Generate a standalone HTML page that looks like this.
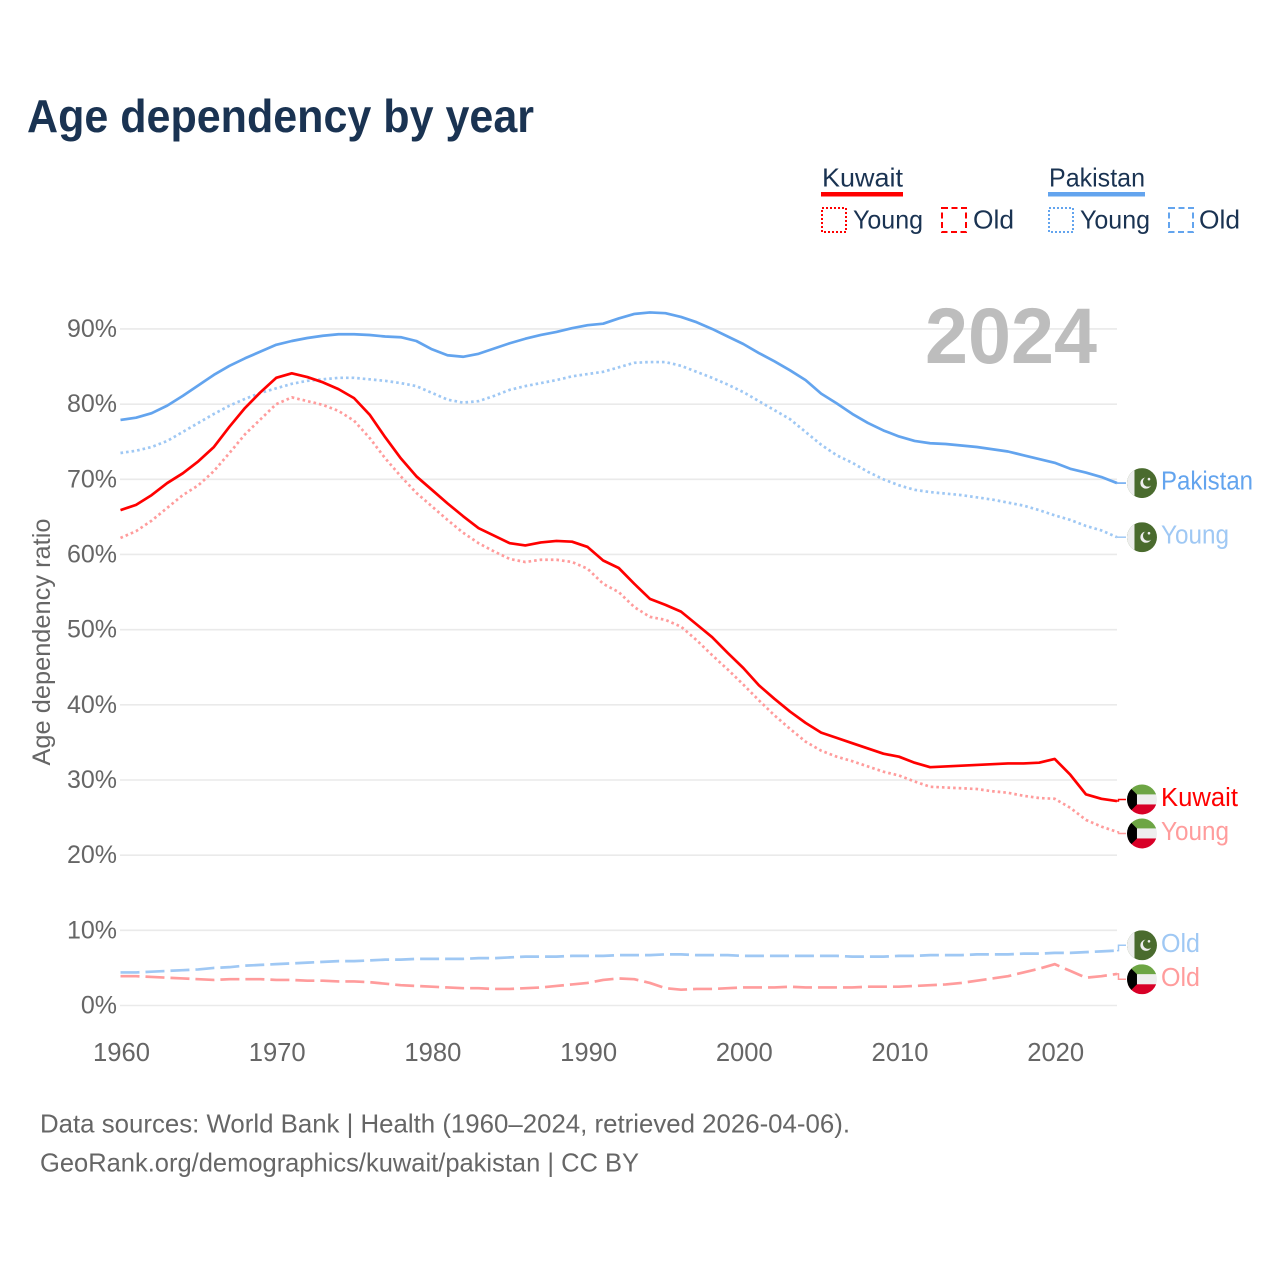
<!DOCTYPE html>
<html lang="en">
<head>
<meta charset="utf-8">
<title>Age dependency by year</title>
<style>
html,body{margin:0;padding:0;background:#fff;width:1280px;height:1280px;overflow:hidden}
svg{display:block}
text{font-family:"Liberation Sans",sans-serif}
</style>
</head>
<body>
<svg id="chart" xmlns="http://www.w3.org/2000/svg" width="1280" height="1280" viewBox="0 0 1280 1280">
  <defs>
    <clipPath id="flag-clip"><circle cx="0" cy="0" r="15"></circle></clipPath>
  </defs>
  <rect x="0" y="0" width="1280" height="1280" fill="#fff"></rect>
  <text x="27" y="132" font-size="46" font-weight="700" fill="#1a3352" textLength="507" lengthAdjust="spacingAndGlyphs">Age dependency by year</text>

  <g font-size="26" fill="#1a3352">
    <text x="822" y="186.5" textLength="81" lengthAdjust="spacingAndGlyphs">Kuwait</text>
    <rect x="821" y="192" width="82" height="4.5" fill="#ff0000"></rect>
    <rect x="822" y="208" width="24" height="24" fill="none" stroke="#ff0000" stroke-width="2" stroke-dasharray="2 2"></rect>
    <text x="853" y="228.5" textLength="70" lengthAdjust="spacingAndGlyphs">Young</text>
    <rect x="942" y="208" width="24" height="24" fill="none" stroke="#ff0000" stroke-width="2" stroke-dasharray="6 3.5"></rect>
    <text x="973" y="228.5" textLength="41" lengthAdjust="spacingAndGlyphs">Old</text>

    <text x="1049" y="186.5" textLength="96" lengthAdjust="spacingAndGlyphs">Pakistan</text>
    <rect x="1048" y="192" width="97" height="4.5" fill="#63a4ee"></rect>
    <rect x="1049" y="208" width="24" height="24" fill="none" stroke="#63a4ee" stroke-width="2" stroke-dasharray="2 2"></rect>
    <text x="1080" y="228.5" textLength="70" lengthAdjust="spacingAndGlyphs">Young</text>
    <rect x="1169" y="208" width="24" height="24" fill="none" stroke="#63a4ee" stroke-width="2" stroke-dasharray="6 3.5"></rect>
    <text x="1199" y="228.5" textLength="41" lengthAdjust="spacingAndGlyphs">Old</text>
  </g>

  <text transform="translate(50,642) rotate(-90)" text-anchor="middle" font-size="25" fill="#666" textLength="247" lengthAdjust="spacingAndGlyphs">Age dependency ratio</text>

  <g id="grid"></g>
  <g id="yticks"></g>
  <g id="xticks"></g>

  <text x="925" y="363" font-size="79" font-weight="700" fill="#bdbdbd" textLength="172" lengthAdjust="spacingAndGlyphs">2024</text>

  <g id="series"></g>
  <g id="end-labels"></g>

  <text x="40" y="1132.5" font-size="26" fill="#666" textLength="810" lengthAdjust="spacingAndGlyphs">Data sources: World Bank | Health (1960–2024, retrieved 2026-04-06).</text>
  <text x="40" y="1171.5" font-size="26" fill="#666" textLength="599" lengthAdjust="spacingAndGlyphs">GeoRank.org/demographics/kuwait/pakistan | CC BY</text>
</svg>

<script>
const years = [1960,1961,1962,1963,1964,1965,1966,1967,1968,1969,1970,1971,1972,1973,1974,1975,1976,1977,1978,1979,1980,1981,1982,1983,1984,1985,1986,1987,1988,1989,1990,1991,1992,1993,1994,1995,1996,1997,1998,1999,2000,2001,2002,2003,2004,2005,2006,2007,2008,2009,2010,2011,2012,2013,2014,2015,2016,2017,2018,2019,2020,2021,2022,2023,2024];
const yTickValues = [0,10,20,30,40,50,60,70,80,90];
const xTickValues = [1960,1970,1980,1990,2000,2010,2020];

const pakistanTotal = [77.9,78.2,78.8,79.8,81.1,82.5,83.9,85.1,86.1,87.0,87.9,88.4,88.8,89.1,89.3,89.3,89.2,89.0,88.9,88.4,87.3,86.5,86.3,86.7,87.4,88.1,88.7,89.2,89.6,90.1,90.5,90.7,91.4,92.0,92.2,92.1,91.6,90.9,90.0,89.0,88.0,86.8,85.7,84.5,83.2,81.4,80.1,78.7,77.5,76.5,75.7,75.1,74.8,74.7,74.5,74.3,74.0,73.7,73.2,72.7,72.2,71.4,70.9,70.3,69.5];
const pakistanYoung = [73.5,73.8,74.3,75.1,76.3,77.5,78.7,79.8,80.7,81.5,82.1,82.7,83.1,83.3,83.5,83.5,83.3,83.1,82.8,82.4,81.5,80.6,80.2,80.4,81.1,81.9,82.4,82.8,83.2,83.7,84.0,84.3,84.9,85.5,85.6,85.6,85.1,84.3,83.5,82.6,81.6,80.4,79.2,78.0,76.3,74.6,73.2,72.2,71.0,70.0,69.2,68.6,68.3,68.1,67.9,67.6,67.3,66.9,66.5,65.9,65.2,64.6,63.8,63.2,62.3];
const pakistanOld = [4.4,4.4,4.5,4.6,4.7,4.8,5.0,5.1,5.3,5.4,5.5,5.6,5.7,5.8,5.9,5.9,6.0,6.1,6.1,6.2,6.2,6.2,6.2,6.3,6.3,6.4,6.5,6.5,6.5,6.6,6.6,6.6,6.7,6.7,6.7,6.8,6.8,6.7,6.7,6.7,6.6,6.6,6.6,6.6,6.6,6.6,6.6,6.5,6.5,6.5,6.6,6.6,6.7,6.7,6.7,6.8,6.8,6.8,6.9,6.9,7.0,7.0,7.1,7.2,7.3];
const kuwaitTotal = [65.9,66.6,67.9,69.5,70.8,72.4,74.3,77.0,79.5,81.6,83.5,84.1,83.6,82.9,82.0,80.8,78.6,75.6,72.8,70.4,68.6,66.8,65.1,63.5,62.5,61.5,61.2,61.6,61.8,61.7,61.0,59.2,58.2,56.1,54.1,53.3,52.4,50.7,49.0,46.9,44.9,42.6,40.8,39.1,37.6,36.3,35.6,34.9,34.2,33.5,33.1,32.3,31.7,31.8,31.9,32.0,32.1,32.2,32.2,32.3,32.8,30.7,28.1,27.5,27.2];
const kuwaitYoung = [62.2,63.1,64.5,66.2,67.9,69.2,71.1,73.5,76.0,78.0,80.0,80.9,80.4,79.9,79.1,77.8,75.5,72.8,70.4,68.2,66.4,64.6,62.9,61.5,60.4,59.4,59.0,59.3,59.3,59.0,58.1,56.1,55.0,53.0,51.7,51.3,50.4,48.6,46.6,44.7,42.7,40.6,38.6,36.8,35.1,33.9,33.1,32.5,31.8,31.1,30.6,29.8,29.1,29.0,28.9,28.8,28.5,28.3,27.9,27.6,27.5,26.3,24.7,23.8,23.1];
const kuwaitOld = [3.9,3.9,3.8,3.7,3.6,3.5,3.4,3.5,3.5,3.5,3.4,3.4,3.3,3.3,3.2,3.2,3.1,2.9,2.7,2.6,2.5,2.4,2.3,2.3,2.2,2.2,2.3,2.4,2.6,2.8,3.0,3.4,3.6,3.5,3.0,2.3,2.1,2.2,2.2,2.3,2.4,2.4,2.4,2.5,2.4,2.4,2.4,2.4,2.5,2.5,2.5,2.6,2.7,2.8,3.0,3.3,3.6,3.9,4.4,4.9,5.5,4.6,3.7,3.9,4.2];

const seriesNames = ['pakistan-total','pakistan-young','pakistan-old','kuwait-total','kuwait-young','kuwait-old'];
const seriesValues = [pakistanTotal,pakistanYoung,pakistanOld,kuwaitTotal,kuwaitYoung,kuwaitOld];
const seriesLabels = ['Pakistan','Young','Old','Kuwait','Young','Old'];
const seriesCountry = ['pk','pk','pk','kw','kw','kw'];
const seriesColors = ['#63a4ee','#9fc8f4','#9fc8f4','#ff0000','#ff9c9c','#ff9c9c'];
const seriesStyle = ['solid','dotted','dashed','solid','dotted','dashed'];

const NS = 'http://www.w3.org/2000/svg';
const xScale = function (year) { return 120.5 + (year - 1960) * 15.57; };
const yScale = function (v) { return 1005.5 - v * 7.517; };
const labelTextLength = function (label) {
  if (label === 'Pakistan') return 92;
  if (label === 'Kuwait') return 77;
  if (label === 'Young') return 68;
  return 39;
};

function make(tag, attrs, parent) {
  const el = document.createElementNS(NS, tag);
  for (const k in attrs) el.setAttribute(k, attrs[k]);
  parent.appendChild(el);
  return el;
}

const gridGroup = document.getElementById('grid');
const yGroup = document.getElementById('yticks');
yTickValues.forEach(function (v) {
  const line = make('line', {x1: 120, x2: 1117, y1: yScale(v), y2: yScale(v), stroke: '#eaeaea', 'stroke-width': 1.6}, gridGroup);
  
  
  const t = make('text', {x: 117, y: yScale(v) + 8, 'text-anchor': 'end', 'font-size': 25, fill: '#666'}, yGroup);
  
  
  t.textContent = v + '%';
});

const xGroup = document.getElementById('xticks');
xTickValues.forEach(function (yr) {
  const t = make('text', {x: xScale(yr) + 1, y: 1061, 'text-anchor': 'middle', 'font-size': 25.6, fill: '#666'}, xGroup);
  
  
  t.textContent = yr;
});

const seriesGroup = document.getElementById('series');
seriesValues.forEach(function (vals, i) {
  const d = vals.map(function (v, j) { return (j ? 'L' : 'M') + xScale(years[j]).toFixed(2) + ',' + yScale(v).toFixed(2); }).join(' ');
  const attrs = {d: d, fill: 'none', stroke: seriesColors[i], 'stroke-width': 2.7, 'stroke-linejoin': 'round'};
  if (seriesStyle[i] === 'dotted') attrs['stroke-dasharray'] = '2.6 3';
  if (seriesStyle[i] === 'dashed') attrs['stroke-dasharray'] = '19 6';
  const path = make('path', attrs, seriesGroup);
  
  
});

/* End labels: start at the final value, then push overlapping ones apart */
const minGap = 34;
const endPoints = seriesValues.map(function (vals, i) {
  return {i: i, y0: yScale(vals[vals.length - 1]), y: yScale(vals[vals.length - 1])};
}).sort(function (a, b) { return a.y0 - b.y0; });
for (let k = 1; k < endPoints.length; k++) {
  const a = endPoints[k - 1], b = endPoints[k];
  if (b.y - a.y < minGap) {
    const mid = (a.y + b.y) / 2;
    a.y = mid - minGap / 2;
    b.y = mid + minGap / 2;
  }
}

function drawFlag(parent, country, cx, cy) {
  const g = make('g', {transform: 'translate(' + cx + ',' + cy.toFixed(2) + ')', 'clip-path': 'url(#flag-clip)'}, parent);
  if (country === 'pk') {
    make('rect', {x: -15, y: -15, width: 30, height: 30, fill: '#4a6b2e'}, g);
    make('rect', {x: -15, y: -15, width: 7.5, height: 30, fill: '#eeeeee'}, g);
    make('circle', {cx: 4, cy: 0, r: 5.6, fill: '#eeeeee'}, g);
    make('circle', {cx: 6, cy: -1.4, r: 5, fill: '#4a6b2e'}, g);
    make('circle', {cx: 7, cy: -4, r: 1.3, fill: '#eeeeee'}, g);
  } else {
    make('rect', {x: -15, y: -15, width: 30, height: 10, fill: '#6da544'}, g);
    make('rect', {x: -15, y: -5, width: 30, height: 10, fill: '#eeeeee'}, g);
    make('rect', {x: -15, y: 5, width: 30, height: 10, fill: '#d80027'}, g);
    make('polygon', {points: '-15,-15 -5,-5 -5,5 -15,15', fill: '#000000'}, g);
  }
  return g;
}

const labelGroup = document.getElementById('end-labels');
const endX = xScale(years[years.length - 1]);
endPoints.forEach(function (p) {
  const i = p.i;
  const connector = make('path', {d: 'M' + endX + ',' + p.y0.toFixed(2) + ' H' + (endX + 1.5) + ' V' + p.y.toFixed(2) + ' H' + (endX + 9), fill: 'none', stroke: seriesColors[i], 'stroke-width': 1.5}, labelGroup);
  
  
  const flag = drawFlag(labelGroup, seriesCountry[i], endX + 25, p.y);
  
  
  const t = make('text', {x: 1161, y: p.y + 6.5, 'font-size': 25.5, fill: seriesColors[i], textLength: labelTextLength(seriesLabels[i]), lengthAdjust: 'spacingAndGlyphs'}, labelGroup);
  
  
  t.textContent = seriesLabels[i];
});
</script>
</body>
</html>
